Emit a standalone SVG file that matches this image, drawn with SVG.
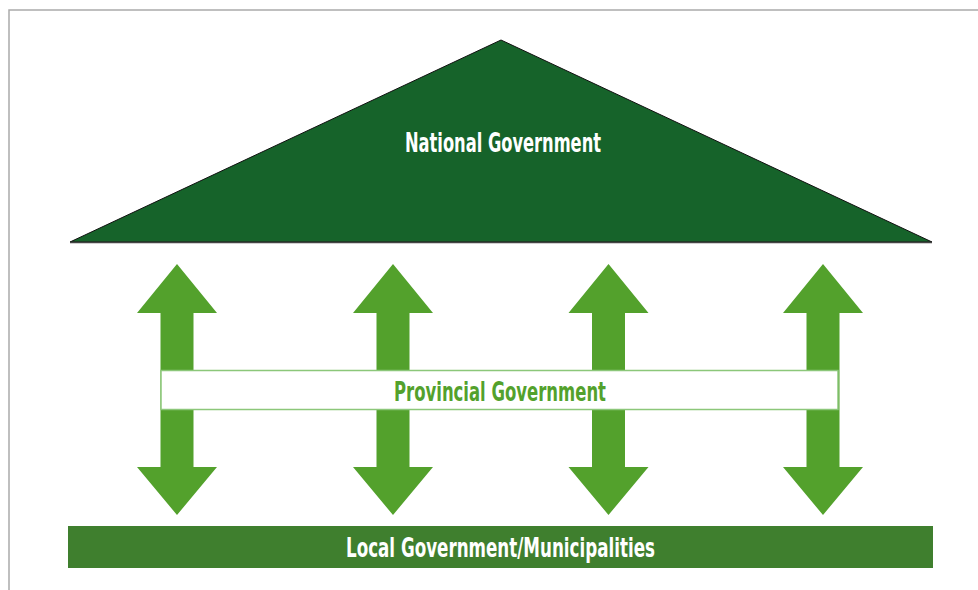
<svg xmlns="http://www.w3.org/2000/svg" width="978" height="590" viewBox="0 0 978 590">
  <style>
    .label { font-family: "DejaVu Sans Condensed", "Liberation Sans", sans-serif; font-size: 27px; font-weight: bold; text-anchor: middle; }
    .light { fill: #ffffff; }
    .green { fill: #53a12c; }
    .arrow { fill: #53a12c; }
  </style>
  <defs>
    <!-- double-headed vertical arrow, centred on x=0 -->
    <polygon id="dbl-arrow" points="0,264 40,313 16.5,313 16.5,467 40,467 0,515 -40,467 -16.5,467 -16.5,313 -40,313"/>
  </defs>

  <rect width="978" height="590" fill="#ffffff"/>
  <!-- frame -->
  <path d="M9,590 V10 H978" fill="none" stroke="#aaaaaa" stroke-width="1.5"/>

  <g id="national">
    <polygon points="501,40 932,242 70,242" fill="#16632a" stroke="#111111" stroke-width="1"/>
    <line x1="70" y1="242.5" x2="932" y2="242.5" stroke="#444444" stroke-width="1.5"/>
    <text class="label light" x="503" y="152" textLength="196" lengthAdjust="spacingAndGlyphs">National Government</text>
  </g>

  <g id="connectors" class="arrow">
    <use href="#dbl-arrow" x="177"/>
    <use href="#dbl-arrow" x="393"/>
    <use href="#dbl-arrow" x="608.5"/>
    <use href="#dbl-arrow" x="823"/>
  </g>

  <g id="provincial">
    <rect x="161" y="370.5" width="677" height="39" fill="#ffffff" stroke="#8cc77a" stroke-width="1.5"/>
    <text class="label green" x="500" y="401" textLength="212" lengthAdjust="spacingAndGlyphs">Provincial Government</text>
  </g>

  <g id="local">
    <rect x="68" y="526" width="865" height="42" fill="#3f7f2e"/>
    <text class="label light" x="500.5" y="557" textLength="309" lengthAdjust="spacingAndGlyphs">Local Government/Municipalities</text>
  </g>
</svg>
